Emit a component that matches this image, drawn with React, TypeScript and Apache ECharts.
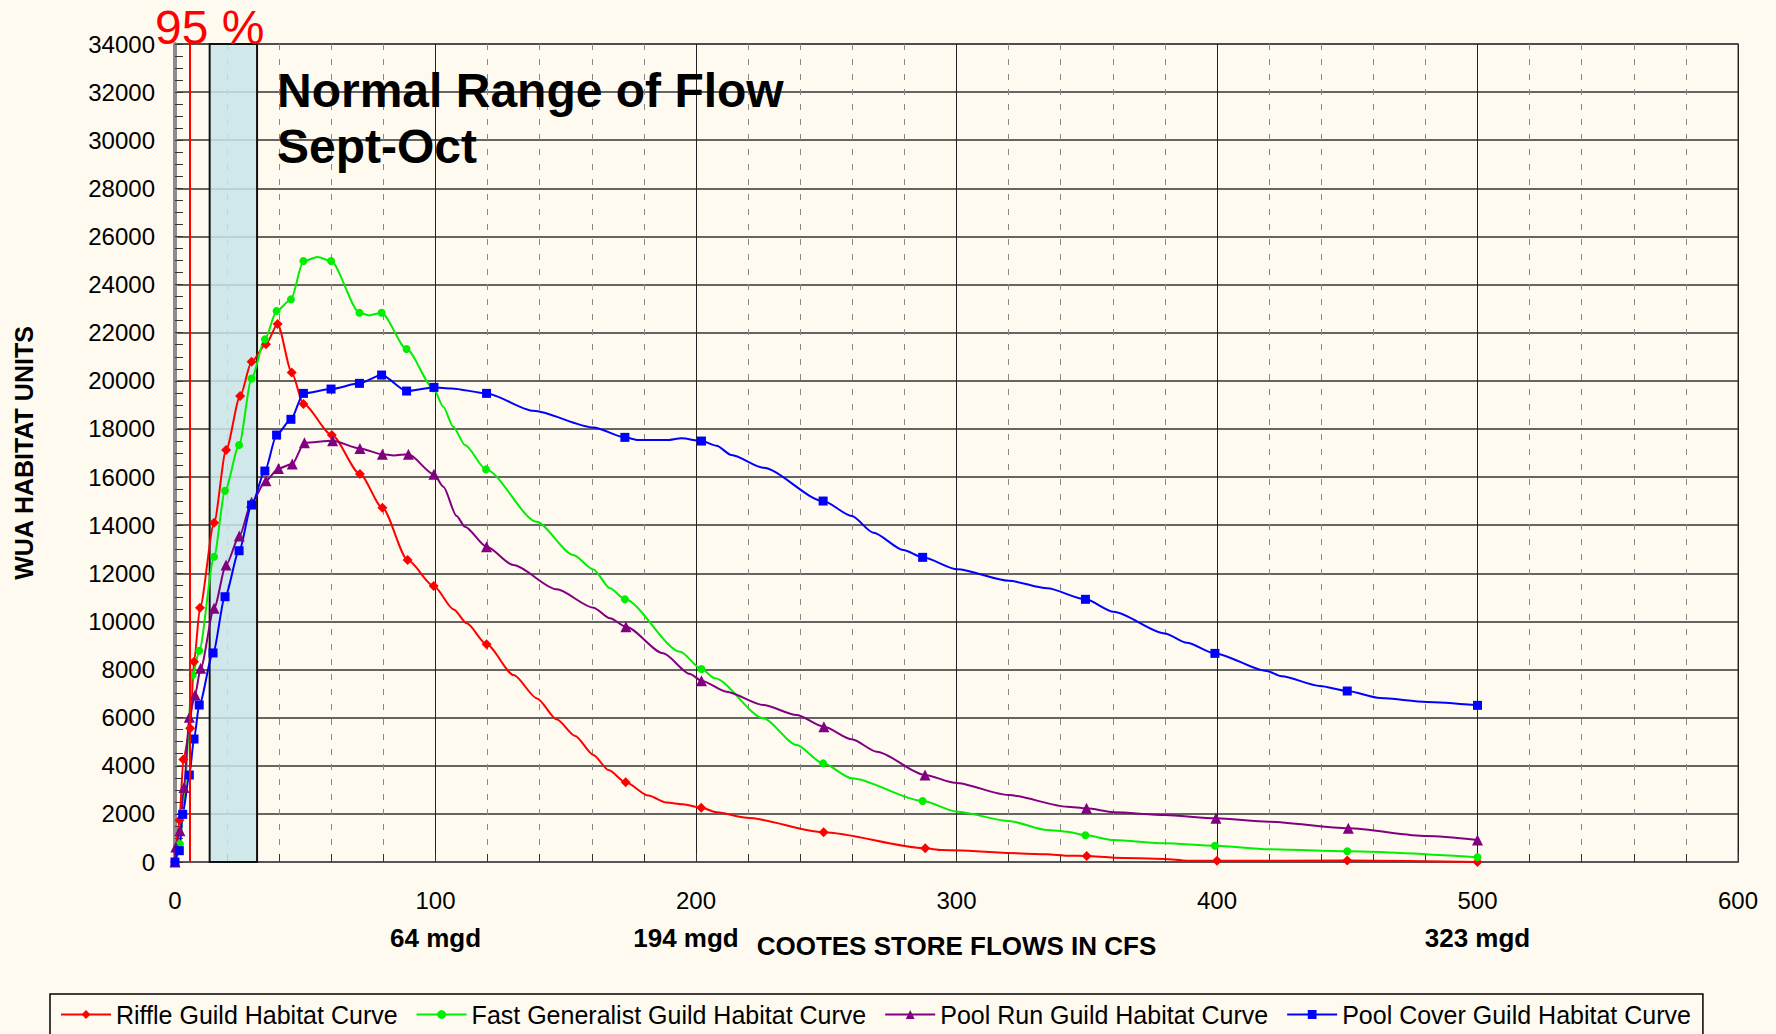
import React, { useEffect, useRef } from "react";
import * as echarts from "echarts";

// [flow (cfs), WUA, marker shown (1) / curve point without marker (0)]
const riffle: number[][] = [
  [0, 0, 1], [1.7, 1740, 1], [3.2, 4260, 1], [5.8, 5560, 1], [7.3, 8320, 1], [9.6, 10570, 1],
  [15, 14100, 1], [19.6, 17120, 1], [25, 19370, 1], [29.4, 20790, 1], [34.9, 21515, 1],
  [39.4, 22360, 1], [44.8, 20350, 1], [49.3, 19034, 1], [60.2, 17746, 1], [71, 16125, 1],
  [79.6, 14725, 1], [89.3, 12550, 1], [99.3, 11470, 1], [107, 10500, 0], [112, 9920, 0],
  [119.6, 9047, 1], [130, 7770, 0], [139, 6800, 0], [146.5, 5930, 0], [153.6, 5240, 0],
  [160.6, 4450, 0], [166.4, 3820, 0], [173, 3310, 1], [181.7, 2760, 0], [188.7, 2470, 0],
  [195, 2400, 0], [202, 2257, 1], [208, 2066, 0], [219.4, 1840, 0], [249, 1234, 1],
  [288, 569, 1], [294.3, 500, 0], [334.8, 320, 0], [342.5, 262, 0], [350, 249, 1],
  [360.4, 180, 0], [380, 125, 0], [388.4, 54, 0], [400, 54, 1], [450, 60, 1], [500, 0, 1],
];

const fastGeneralist: number[][] = [
  [0, 0, 1], [1.9, 750, 1], [3, 2050, 1], [6.8, 7770, 1], [9.3, 8780, 1], [15, 12690, 1],
  [19.2, 15430, 1], [24.6, 17330, 1], [29.4, 20100, 1], [34.5, 21724, 1], [39, 22900, 1],
  [44.5, 23385, 1], [49.3, 24977, 1], [54.8, 25150, 0], [59.9, 24977, 1], [70.8, 22830, 1],
  [74.5, 22720, 0], [79.3, 22830, 1], [88.9, 21320, 1], [99.2, 19687, 1], [103, 18920, 0],
  [106.8, 18090, 0], [111.3, 17330, 0], [119.4, 16318, 1], [138.8, 14140, 0], [152.9, 12760, 0],
  [160.6, 12160, 0], [167, 11375, 0], [172.7, 10918, 1], [193.9, 8740, 0], [202.1, 8021, 1],
  [207.3, 7634, 0], [225.8, 5972, 0], [238.6, 4862, 0], [248.8, 4100, 1], [259.8, 3478, 0],
  [287, 2535, 1], [300.3, 2090, 0], [320.1, 1704, 0], [334.8, 1330, 0], [342.5, 1260, 0],
  [349.5, 1110, 1], [360.3, 914, 0], [380, 776, 0], [399.2, 677, 1], [419.7, 528, 0],
  [450, 445, 1], [500, 195, 1],
];

const poolRun: number[][] = [
  [0, 0, 1], [0.3, 620, 1], [1.9, 1300, 1], [3.45, 3100, 1], [5.5, 6013, 1], [7.7, 6940, 1],
  [9.85, 8050, 1], [15, 10543, 1], [19.6, 12343, 1], [24.7, 13550, 1], [29.4, 14950, 1],
  [34.9, 15847, 1], [39.7, 16360, 1], [45, 16540, 1], [49.7, 17427, 1], [60.5, 17510, 1],
  [71, 17190, 1], [79.6, 16945, 1], [84, 16900, 0], [89.6, 16945, 1], [99.4, 16113, 1],
  [103, 15597, 0], [108.1, 14380, 0], [111.3, 13936, 0], [119.6, 13104, 1], [129.9, 12343, 0],
  [146.5, 11333, 0], [160.6, 10570, 0], [167, 10128, 0], [173.1, 9779, 1], [187.4, 8673, 0],
  [197.7, 7813, 0], [202.1, 7535, 1], [211.7, 7078, 0], [225.8, 6525, 0], [238.6, 6109, 0],
  [249.1, 5623, 1], [259.8, 5099, 0], [269.4, 4584, 0], [287.9, 3616, 1], [299.4, 3297, 0],
  [320, 2784, 0], [342.5, 2300, 0], [349.9, 2230, 1], [360.4, 2066, 0], [380, 1953, 0],
  [399.6, 1815, 1], [419.7, 1676, 0], [450.4, 1400, 1], [480.5, 1080, 0], [500, 914, 1],
];

const poolCover: number[][] = [
  [0, 0, 1], [1.66, 470, 1], [2.94, 1980, 1], [5.5, 3616, 1], [7.3, 5112, 1], [9.3, 6525, 1],
  [14.6, 8690, 1], [19.2, 11026, 1], [24.6, 12937, 1], [29.4, 14837, 1], [34.5, 16250, 1],
  [39, 17746, 1], [44.5, 18400, 1], [49.3, 19478, 1], [59.9, 19658, 1], [70.8, 19894, 1],
  [79.3, 20240, 1], [88.9, 19575, 1], [99.4, 19727, 1], [106.2, 19686, 0], [119.6, 19478, 1],
  [137.5, 18757, 0], [160.6, 18064, 0], [172.7, 17650, 1], [177.8, 17538, 0], [188.7, 17538, 0],
  [194.5, 17610, 0], [202.1, 17497, 1], [207.9, 17302, 0], [213.6, 16915, 0], [225.8, 16388, 0],
  [248.8, 15003, 1], [259.8, 14380, 0], [268.1, 13686, 0], [279.6, 12967, 0], [287, 12663, 1],
  [300.3, 12164, 0], [320.1, 11690, 0], [334.8, 11375, 0], [349.5, 10918, 1], [360.3, 10403, 0],
  [380, 9502, 0], [388.4, 9115, 0], [399.2, 8671, 1], [419.1, 7938, 0], [424.8, 7720, 0],
  [439.5, 7315, 0], [450, 7107, 1], [462.6, 6815, 0], [480.5, 6650, 0], [500, 6511, 1],
];

const seriesNames = [
  "Riffle Guild Habitat Curve",
  "Fast Generalist Guild Habitat Curve",
  "Pool Run Guild Habitat Curve",
  "Pool Cover Guild Habitat Curve",
];

const mgdLabels: Record<number, string> = { 100: "64 mgd", 200: "194 mgd", 500: "323 mgd" };

const normalRange = [13.3, 31.5]; // cfs, Sept-Oct normal range band
const pct95Flow = 5.8; // cfs

const FONT = '"Liberation Sans", Arial, Helvetica, sans-serif';
const BG = "#FFFAF0";

function toData(arr: number[][]) {
  return arr.map((p) =>
    p[2] ? { value: [p[0], p[1]] } : { value: [p[0], p[1]], symbol: "none" }
  );
}

export default function App() {
  const ref = useRef<HTMLDivElement>(null);

  useEffect(() => {
    if (!ref.current) return;
    const chart = echarts.init(ref.current, undefined, { renderer: "svg" });

    const mk = (name: string, arr: number[][], color: string, symbol: string, size: number) => ({
      name,
      type: "line",
      data: toData(arr),
      smooth: 0.25,
      smoothMonotone: "x",
      symbol,
      symbolSize: size,
      showAllSymbol: true,
      lineStyle: { color, width: 2 },
      itemStyle: { color },
      z: 2,
    });

    chart.setOption({
      animation: false,
      backgroundColor: BG,
      textStyle: { fontFamily: FONT },
      grid: {
        left: 175,
        right: 38,
        top: 44,
        bottom: 172,
        containLabel: false,
        outerBoundsMode: "none",
        show: true,
        borderColor: "#9a9a9a",
        borderWidth: 2,
        backgroundColor: "transparent",
      },
      legend: {
        data: seriesNames,
        left: 50,
        top: 994,
        orient: "horizontal",
        itemWidth: 50,
        itemHeight: 11,
        itemGap: 18,
        padding: [8, 12, 20, 10],
        borderColor: "#000",
        borderWidth: 1.5,
        backgroundColor: BG,
        textStyle: { fontSize: 25, color: "#000", fontFamily: FONT },
      },
      xAxis: {
        type: "value",
        min: 0,
        max: 600,
        interval: 100,
        name: "COOTES STORE FLOWS IN CFS",
        nameLocation: "middle",
        nameGap: 71,
        nameMoveOverlap: false,
        nameTextStyle: { fontSize: 26, fontWeight: "bold", color: "#000", fontFamily: FONT },
        axisLine: { show: true, onZero: false, lineStyle: { color: "#555", width: 2 } },
        axisTick: { show: true, inside: true, length: 8, lineStyle: { color: "#333" } },
        minorTick: { show: true, splitNumber: 5, length: 8, lineStyle: { color: "#333" } },
        splitLine: { show: true, lineStyle: { color: "#222", width: 1 } },
        minorSplitLine: { show: true, lineStyle: { color: "#888", width: 1, type: [6, 9] } },
        axisLabel: {
          margin: 19,
          color: "#000",
          formatter: (v: number) => {
            if (!mgdLabels[v]) return `{n|${v}}`;
            const style = v === 200 ? "w" : "m";
            return `{n|${v}}\n{${style}|${mgdLabels[v]}}`;
          },
          rich: {
            n: { fontSize: 24, lineHeight: 38, color: "#000", fontFamily: FONT },
            m: { fontSize: 26, lineHeight: 38, fontWeight: "bold", color: "#000", fontFamily: FONT },
            w: {
              fontSize: 26,
              lineHeight: 38,
              fontWeight: "bold",
              color: "#000",
              fontFamily: FONT,
              padding: [0, 20, 0, 0],
            },
          },
        },
      },
      yAxis: {
        type: "value",
        min: 0,
        max: 34000,
        interval: 2000,
        name: "WUA HABITAT UNITS",
        nameLocation: "middle",
        nameGap: 139,
        nameMoveOverlap: false,
        nameTextStyle: { fontSize: 25, fontWeight: "bold", color: "#000", fontFamily: FONT },
        axisLine: { show: true, onZero: false, lineStyle: { color: "#8c8c8c", width: 4 } },
        axisTick: { show: true, inside: true, length: 8, lineStyle: { color: "#333" } },
        minorTick: { show: true, splitNumber: 4, length: 8, lineStyle: { color: "#333" } },
        splitLine: { show: true, lineStyle: { color: "#333", width: 1.5 } },
        axisLabel: {
          margin: 20,
          fontSize: 24,
          color: "#000",
          fontFamily: FONT,
          formatter: (v: number) => String(v),
        },
      },
      series: [
        mk(seriesNames[0], riffle, "#ff0000", "diamond", 10),
        mk(seriesNames[1], fastGeneralist, "#00ee00", "circle", 8),
        mk(seriesNames[2], poolRun, "#800080", "triangle", 11),
        mk(seriesNames[3], poolCover, "#0000ff", "rect", 9),
        {
          name: "band",
          type: "line",
          data: [],
          z: 5,
          silent: true,
          markArea: {
            silent: true,
            itemStyle: {
              color: "rgba(200, 228, 232, 0.86)",
              borderColor: "#111",
              borderWidth: 2,
            },
            label: { show: false },
            data: [[{ xAxis: normalRange[0], yAxis: 0 }, { xAxis: normalRange[1], yAxis: 34000 }]],
          },
          markLine: {
            silent: true,
            symbol: "none",
            label: { show: false },
            lineStyle: { color: "#ff0000", width: 2, type: "solid" },
            data: [{ xAxis: pct95Flow }],
          },
        },
      ],
      graphic: [
        {
          type: "text",
          x: 155,
          y: 3,
          z: 10,
          style: {
            text: "95 %",
            font: `48px ${FONT}`,
            fill: "#ff0000",
            textVerticalAlign: "top",
          },
        },
        {
          type: "text",
          x: 277,
          y: 62,
          z: 10,
          style: {
            text: "Normal Range of Flow\nSept-Oct",
            font: `bold 48px ${FONT}`,
            lineHeight: 56,
            fill: "#000",
            textVerticalAlign: "top",
          },
        },
      ],
    });

    return () => chart.dispose();
  }, []);

  return (
    <div
      ref={ref}
      style={{ position: "absolute", left: 0, top: 0, width: 1776, height: 1034 }}
    />
  );
}
